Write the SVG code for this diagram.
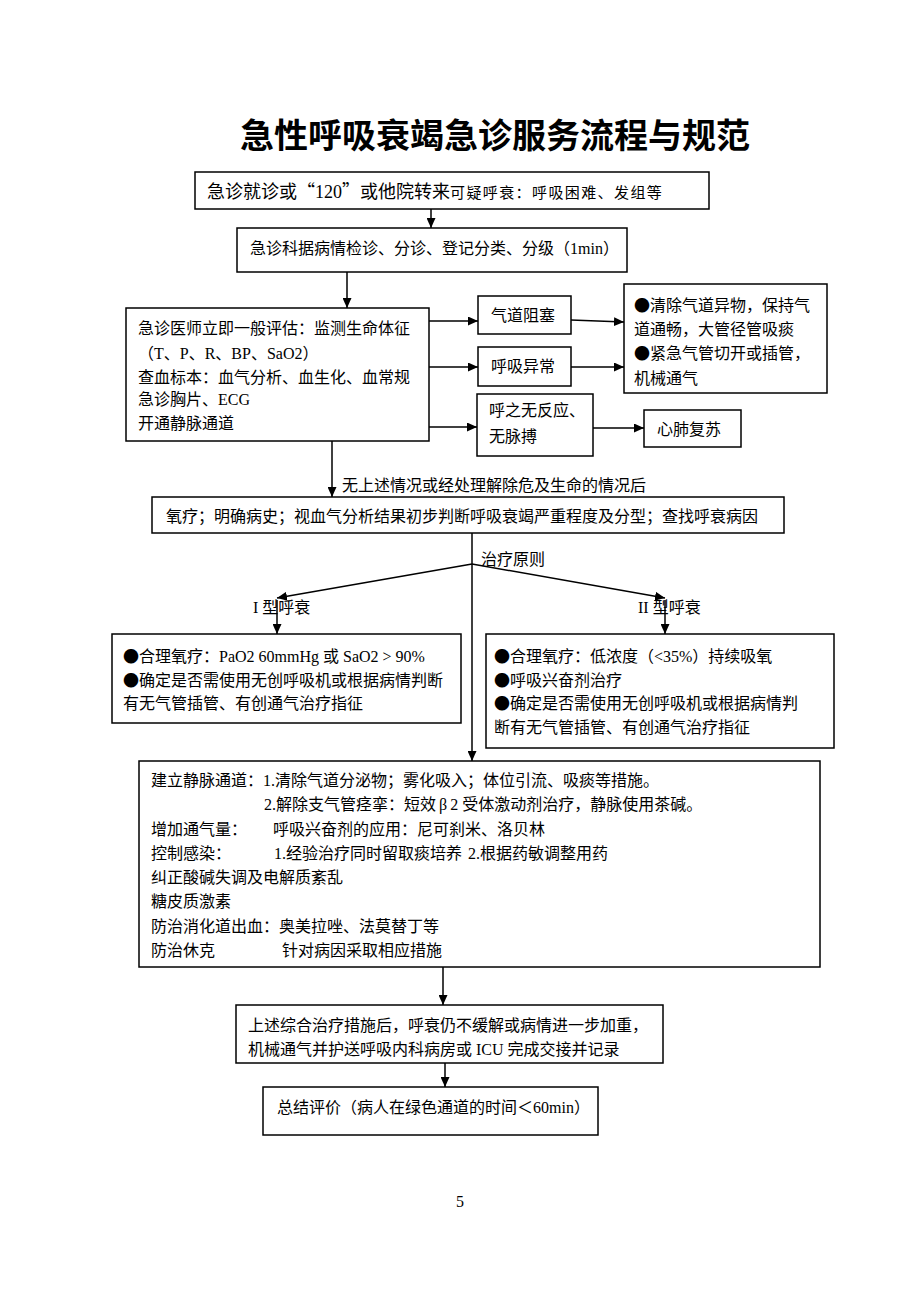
<svg xmlns="http://www.w3.org/2000/svg" width="920" height="1302" viewBox="0 0 920 1302">
<style>
.t{font-family:"Liberation Serif","Noto Sans CJK SC",serif;font-size:16px;fill:#000}
.cjk{font-family:"Noto Sans CJK SC",sans-serif}
.title{font-family:"Noto Sans CJK SC",sans-serif;font-size:34px;font-weight:bold;fill:#000}
.box{fill:#fff;stroke:#000;stroke-width:1.5}
.c{stroke:#000;stroke-width:1.5;fill:none}
.a{marker-end:url(#arr)}
</style>
<defs>
<marker id="arr" markerUnits="userSpaceOnUse" markerWidth="11" markerHeight="9" refX="10" refY="4.5" orient="auto">
<path d="M0,0 L10,4.5 L0,9 z" fill="#000"/>
</marker>
</defs>
<rect width="920" height="1302" fill="#fff"/>
<text class="title" x="240" y="148">急性呼吸衰竭急诊服务流程与规范</text>

<g id="connectors">
<line class="c a" x1="431" y1="209" x2="431" y2="228"/>
<line class="c a" x1="347" y1="272" x2="347" y2="308"/>
<line class="c a" x1="429" y1="321" x2="478" y2="321"/>
<line class="c a" x1="429" y1="367" x2="478" y2="367"/>
<line class="c a" x1="429" y1="427" x2="477" y2="427"/>
<line class="c a" x1="571" y1="320" x2="624" y2="322"/>
<line class="c a" x1="571" y1="367" x2="624" y2="367"/>
<line class="c a" x1="593" y1="428" x2="644" y2="428"/>
<line class="c a" x1="332" y1="441" x2="332" y2="497"/>
<line class="c a" x1="472" y1="533" x2="472" y2="761"/>
<line class="c a" x1="472" y1="564" x2="277" y2="598"/>
<line class="c a" x1="472" y1="564" x2="665" y2="598"/>
<line class="c a" x1="277" y1="600" x2="277" y2="634"/>
<line class="c a" x1="665" y1="600" x2="665" y2="634"/>
<line class="c a" x1="443" y1="967" x2="443" y2="1005"/>
<line class="c a" x1="445" y1="1063" x2="445" y2="1087"/>
<text class="t" x="342" y="491">无上述情况或经处理解除危及生命的情况后</text>
<text class="t" x="481" y="565">治疗原则</text>
<text class="t" x="253" y="613">I 型呼衰</text>
<text class="t" x="638" y="613">II 型呼衰</text>
</g>

<g id="n1">
<rect class="box" x="195" y="172" width="514" height="37"/>
<text class="t" x="207" y="198" style="font-size:18px">急诊就诊或<tspan class="cjk">“</tspan>120<tspan class="cjk">”</tspan>或他院转来<tspan style="font-size:15px;letter-spacing:1.4px">可疑呼衰：呼吸困难、发组等</tspan></text>
</g>

<g id="n2">
<rect class="box" x="237" y="228" width="390" height="44"/>
<text class="t" x="250" y="254">急诊科据病情检诊、分诊、登记分类、分级（1min）</text>
</g>

<g id="n3">
<rect class="box" x="126" y="308" width="303" height="133"/>
<text class="t" x="138" y="334">急诊医师立即一般评估：监测生命体征</text>
<text class="t" x="138" y="359">（T、P、R、BP、SaO2）</text>
<text class="t" x="138" y="383">查血标本：血气分析、血生化、血常规</text>
<text class="t" x="138" y="405">急诊胸片、ECG</text>
<text class="t" x="138" y="429">开通静脉通道</text>
</g>

<g id="n4">
<rect class="box" x="478" y="296" width="93" height="38"/>
<text class="t" x="491" y="321">气道阻塞</text>
</g>

<g id="n5">
<rect class="box" x="478" y="347" width="93" height="39"/>
<text class="t" x="491" y="372">呼吸异常</text>
</g>

<g id="n6">
<rect class="box" x="477" y="394" width="116" height="62"/>
<text class="t" x="489" y="416">呼之无反应、</text>
<text class="t" x="489" y="442">无脉搏</text>
</g>

<g id="n7">
<rect class="box" x="624" y="284" width="203" height="109"/>
<text class="t" x="634" y="311"><tspan class="cjk">●</tspan>清除气道异物，保持气</text>
<text class="t" x="634" y="335">道通畅，大管径管吸痰</text>
<text class="t" x="634" y="359"><tspan class="cjk">●</tspan>紧急气管切开或插管，</text>
<text class="t" x="634" y="384">机械通气</text>
</g>

<g id="n8">
<rect class="box" x="644" y="410" width="97" height="37"/>
<text class="t" x="657" y="435">心肺复苏</text>
</g>

<g id="n9">
<rect class="box" x="152" y="497" width="632" height="36"/>
<text class="t" x="166" y="522">氧疗；明确病史；视血气分析结果初步判断呼吸衰竭严重程度及分型；查找呼衰病因</text>
</g>

<g id="n10">
<rect class="box" x="112" y="634" width="349" height="89"/>
<text class="t" x="123" y="662"><tspan class="cjk">●</tspan>合理氧疗：PaO2 60mmHg 或 SaO2 &gt; 90%</text>
<text class="t" x="123" y="686"><tspan class="cjk">●</tspan>确定是否需使用无创呼吸机或根据病情判断</text>
<text class="t" x="123" y="709">有无气管插管、有创通气治疗指征</text>
</g>

<g id="n11">
<rect class="box" x="486" y="634" width="348" height="114"/>
<text class="t" x="494" y="662"><tspan class="cjk">●</tspan>合理氧疗：低浓度（&lt;35%）持续吸氧</text>
<text class="t" x="494" y="686"><tspan class="cjk">●</tspan>呼吸兴奋剂治疗</text>
<text class="t" x="494" y="709"><tspan class="cjk">●</tspan>确定是否需使用无创呼吸机或根据病情判</text>
<text class="t" x="494" y="733">断有无气管插管、有创通气治疗指征</text>
</g>

<g id="n12">
<rect class="box" x="139" y="761" width="681" height="206"/>
<text class="t" x="151" y="786">建立静脉通道：1.清除气道分泌物；雾化吸入；体位引流、吸痰等措施。</text>
<text class="t" x="264" y="810">2.解除支气管痉挛：短效<tspan dx="3">β</tspan><tspan dx="3">2</tspan> 受体激动剂治疗，静脉使用茶碱。</text>
<text class="t" x="151" y="835">增加通气量：<tspan x="273">呼吸兴奋剂的应用：尼可刹米、洛贝林</tspan></text>
<text class="t" x="151" y="859">控制感染：<tspan x="274">1.经验治疗同时留取痰培养</tspan><tspan x="468">2.根据药敏调整用药</tspan></text>
<text class="t" x="151" y="883">纠正酸碱失调及电解质紊乱</text>
<text class="t" x="151" y="907">糖皮质激素</text>
<text class="t" x="151" y="932">防治消化道出血：奥美拉唑、法莫替丁等</text>
<text class="t" x="151" y="956">防治休克<tspan x="282">针对病因采取相应措施</tspan></text>
</g>

<g id="n13">
<rect class="box" x="236" y="1005" width="427" height="58"/>
<text class="t" x="248" y="1031">上述综合治疗措施后，呼衰仍不缓解或病情进一步加重，</text>
<text class="t" x="248" y="1055">机械通气并护送呼吸内科病房或 ICU 完成交接并记录</text>
</g>

<g id="n14">
<rect class="box" x="263" y="1087" width="335" height="48"/>
<text class="t" x="277" y="1113">总结评价（病人在绿色通道的时间＜60min）</text>
</g>

<text class="t" x="456" y="1207">5</text>
</svg>
